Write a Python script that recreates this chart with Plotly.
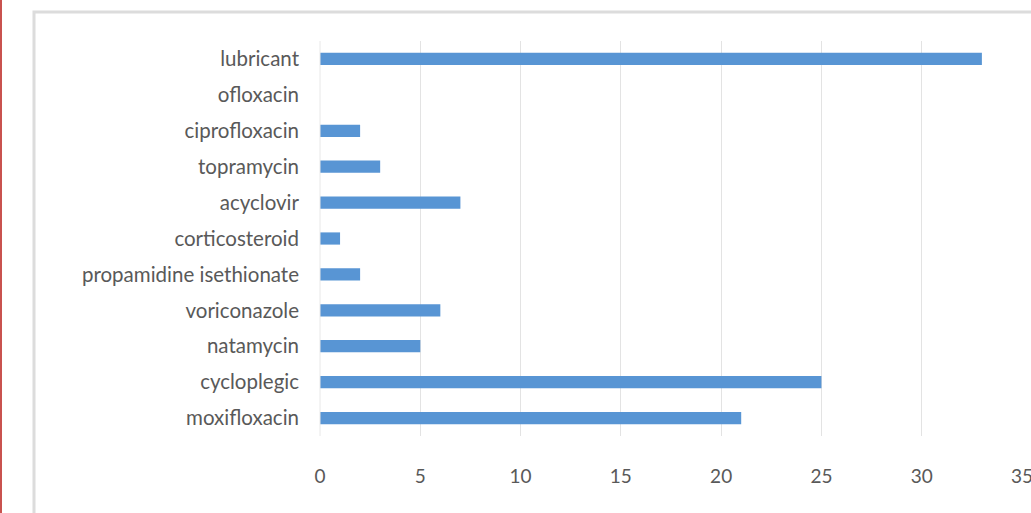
import plotly.graph_objects as go

categories = ["moxifloxacin", "cycloplegic", "natamycin", "voriconazole",
              "propamidine isethionate", "corticosteroid", "acyclovir",
              "topramycin", "ciprofloxacin", "ofloxacin", "lubricant"]
values = [21, 25, 5, 6, 2, 1, 7, 3, 2, 0, 33]
x_ticks = [0, 5, 10, 15, 20, 25, 30, 35]

L, R, T, B = 320, 9, 41, 77
W, H = 1031, 513
pw = W - L - R
ph = H - T - B

def px(p):
    return (p - L) / pw

def py(p):
    return (H - B - p) / ph

fig = go.Figure(go.Bar(
    x=values, y=categories, orientation="h",
    marker=dict(color="#5895d4", line=dict(width=0)),
    width=0.34,
))

fig.update_layout(
    width=W, height=H,
    margin=dict(l=L, r=R, t=T, b=B, autoexpand=False),
    plot_bgcolor="white", paper_bgcolor="white",
    showlegend=False,
    font=dict(family="Lato", size=20, color="#595959"),
    xaxis=dict(range=[0, 35], tickvals=x_ticks, showgrid=True,
               gridcolor="#e3e3e3", gridwidth=1, zeroline=False,
               showline=False, ticks="", ticklabelstandoff=27,
               automargin=False, ticklabeloverflow="allow",
               tickfont=dict(size=19, color="#595959")),
    yaxis=dict(categoryorder="array", categoryarray=categories,
               showgrid=False, zeroline=False, showline=False, ticks="",
               ticklabelstandoff=20, automargin=False,
               tickfont=dict(size=20.5, color="#595959")),
    shapes=[
        dict(type="line", xref="paper", yref="paper",
             x0=0, x1=0, y0=0, y1=1, line=dict(color="#e8e8e8", width=1)),
        dict(type="rect", xref="paper", yref="paper",
             x0=px(34), x1=px(1100), y0=py(12), y1=py(600),
             line=dict(color="#dcdcdc", width=3), fillcolor="rgba(0,0,0,0)"),
        dict(type="line", xref="paper", yref="paper",
             x0=px(1), x1=px(1), y0=py(-10), y1=py(600),
             line=dict(color="#c9524f", width=2)),
    ],
)

fig.write_html("out.html")
